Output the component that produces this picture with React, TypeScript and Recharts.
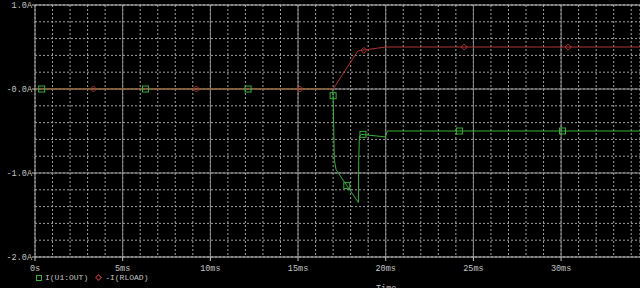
import React from 'react';
import { ComposedChart, Line, Scatter, XAxis, YAxis, CartesianGrid, ReferenceLine } from 'recharts';

// time in ms, current in A
const tOut = [0, 16.98, 17.0, 17.07, 17.17, 17.78, 18.44, 18.46, 18.5, 18.6, 19.97, 20.1, 34.5];
const iOut = [0, 0, -0.08, -0.85, -0.96, -1.15, -1.35, -0.85, -0.57, -0.54, -0.57, -0.5, -0.5];
const tLoad = [0, 17.0, 18.42, 20.0, 34.5];
const iLoad = [0, 0, 0.455, 0.5, 0.5];

// symbol markers along the traces
const tOutMarks = [0.38, 6.3, 12.15, 17.0, 17.78, 18.7, 24.2, 30.08];
const iOutMarks = [0, 0, 0, -0.08, -1.15, -0.54, -0.5, -0.5];
const tLoadMarks = [3.33, 9.2, 15.1, 18.75, 24.47, 30.4];
const iLoadMarks = [0, 0, 0, 0.46, 0.5, 0.5];

const xTicks = [0, 1, 2, 3, 4, 5, 6, 7, 8, 9, 10, 11, 12, 13, 14, 15, 16, 17, 18, 19, 20, 21, 22, 23, 24, 25, 26, 27, 28, 29, 30, 31, 32, 33, 34];
const xMajor = [0, 5, 10, 15, 20, 25, 30];
const xMajorLabels = ['0s', '5ms', '10ms', '15ms', '20ms', '25ms', '30ms'];
const yTicks = [-2, -1.8, -1.6, -1.4, -1.2, -1, -0.8, -0.6, -0.4, -0.2, 0, 0.2, 0.4, 0.6, 0.8, 1];
const yMajor = [1, 0, -1, -2];
const yMajorLabels = ['1.0A', '-0.0A', '-1.0A', '-2.0A'];

const outData = tOut.map((t, i) => ({ t, v: iOut[i] }));
const loadData = tLoad.map((t, i) => ({ t, v: iLoad[i] }));
const outMarks = tOutMarks.map((t, i) => ({ t, v: iOutMarks[i] }));
const loadMarks = tLoadMarks.map((t, i) => ({ t, v: iLoadMarks[i] }));

const GREEN = '#36b236';
const RED = '#b03434';
const TEXT = '#c4c4c4';
const FONT = '"Liberation Mono", "DejaVu Sans Mono", monospace';

const XTick = (props: any) => {
    const { x, y, payload } = props;
    const idx = xMajor.indexOf(payload.value);
    if (idx < 0) return null;
    return (
        <g>
            <line x1={x} y1={y} x2={x} y2={y + 4} stroke={TEXT} />
            <text x={x} y={y + 14} fill={TEXT} fontSize={8.5} fontFamily={FONT} textAnchor="middle">
                {xMajorLabels[idx]}
            </text>
        </g>
    );
};

const YTick = (props: any) => {
    const { x, y, payload } = props;
    const idx = yMajor.findIndex((m) => Math.abs(m - payload.value) < 1e-6);
    if (idx < 0) return null;
    return (
        <g>
            <line x1={x - 3} y1={y} x2={x} y2={y} stroke={TEXT} />
            <text x={x - 3} y={y + 3} fill={TEXT} fontSize={8.5} fontFamily={FONT} textAnchor="end">
                {yMajorLabels[idx]}
            </text>
        </g>
    );
};

const Square = (props: any) => (
    <rect x={props.cx - 3} y={props.cy - 3} width={6} height={6} fill="none" stroke={GREEN} strokeWidth={1} />
);

const Diamond = (props: any) => (
    <path d={`M${props.cx},${props.cy - 3}L${props.cx + 3},${props.cy}L${props.cx},${props.cy + 3}L${props.cx - 3},${props.cy}Z`} fill="none" stroke={RED} strokeWidth={1} />
);

export default function App() {
    return (
        <div style={{ position: 'absolute', left: 0, top: 0, width: 640, height: 288, background: '#000', overflow: 'hidden' }}>
            <ComposedChart width={640} height={288} margin={{ top: 5, right: 0, left: 0, bottom: 0 }}>
                <CartesianGrid stroke="#a0a0a0" strokeDasharray="2 2" />
                <XAxis
                    dataKey="t"
                    type="number"
                    domain={[0, 34.5]}
                    ticks={xTicks}
                    allowDataOverflow
                    height={31}
                    axisLine={{ stroke: TEXT }}
                    tickLine={false}
                    tickSize={0}
                    tickMargin={0}
                    tick={<XTick />}
                    interval={0}
                />
                <YAxis
                    type="number"
                    domain={[-2, 1]}
                    ticks={yTicks}
                    width={35}
                    axisLine={{ stroke: '#a8a8a8' }}
                    tickLine={false}
                    tickSize={0}
                    tickMargin={0}
                    tick={<YTick />}
                    interval={0}
                />
                {xMajor.slice(1).map((t) => (
                    <ReferenceLine key={'x' + t} x={t} stroke="#8a8a8a" />
                ))}
                <ReferenceLine y={0} stroke="#9a9a9a" />
                <ReferenceLine y={-1} stroke="#9a9a9a" />
                <ReferenceLine y={1} stroke={TEXT} />
                <Line data={outData} dataKey="v" type="linear" stroke={GREEN} strokeWidth={1} dot={false} isAnimationActive={false} />
                <Line data={loadData} dataKey="v" type="linear" stroke={RED} strokeWidth={1} dot={false} isAnimationActive={false} />
                <Scatter data={loadMarks} dataKey="v" shape={<Diamond />} isAnimationActive={false} />
                <Scatter data={outMarks} dataKey="v" shape={<Square />} isAnimationActive={false} />
            </ComposedChart>
            <div style={{ position: 'absolute', left: 36, top: 273, fontFamily: FONT, fontSize: 8, color: TEXT, whiteSpace: 'pre', lineHeight: '10px' }}>
                <span style={{ display: 'inline-block', width: 4, height: 4, border: `1px solid ${GREEN}`, marginRight: 3, verticalAlign: 'middle' }} />
                I(U1:OUT)
                <span style={{ display: 'inline-block', width: 3, height: 3, border: `1px solid ${RED}`, transform: 'rotate(45deg)', margin: '0 4px 0 8px', verticalAlign: 'middle' }} />
                -I(RLOAD)
            </div>
            <div style={{ position: 'absolute', left: 376, top: 284, fontFamily: FONT, fontSize: 8.5, color: TEXT }}>Time</div>
        </div>
    );
}
